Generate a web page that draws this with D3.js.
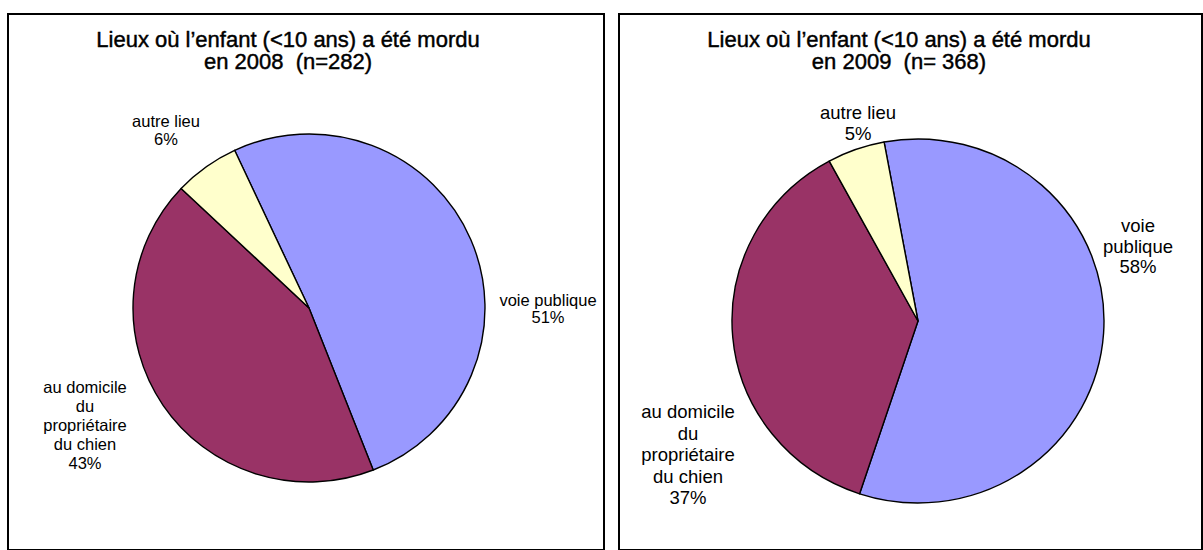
<!DOCTYPE html>
<html>
<head>
<meta charset="utf-8">
<script src="https://cdn.jsdelivr.net/npm/d3@7"></script>
<style>
  body { margin: 0; background: #fff; }
  svg { display: block; font-family: "Liberation Sans", Arial, sans-serif; }
</style>
</head>
<body>
<svg id="chart" width="1203" height="550"></svg>
<script>
// data
var categories = ["voie publique", "au domicile du propriétaire du chien", "autre lieu"];
var values2008 = [51, 43, 6];
var values2009 = [58, 37, 5];
var titles2008 = ["Lieux où l’enfant (<10 ans) a été mordu", "en 2008  (n=282)"];
var titles2009 = ["Lieux où l’enfant (<10 ans) a été mordu", "en 2009  (n= 368)"];
// how each category label is broken in lines, per panel
var labelLines2008 = [["voie publique"], ["au domicile", "du", "propriétaire", "du chien"], ["autre lieu"]];
var labelLines2009 = [["voie", "publique"], ["au domicile", "du", "propriétaire", "du chien"], ["autre lieu"]];
var colors = ["#9999FF", "#993366", "#FFFFCC"];

var svg = d3.select("#chart");

var panels = [
  {
    values: values2008, titles: titles2008, lines: labelLines2008,
    box: {x: 8, y: 14, w: 596, h: 536},
    titleX: 288, cx: 309, cy: 308, rx: 176, ry: 174, start: -25,
    font: 16.5,
    labels: [{dx: 239, dy: -2, lh: 17}, {dx: -224, dy: 85, lh: 19}, {dx: -143, dy: -181, lh: 18}]
  },
  {
    values: values2009, titles: titles2009, lines: labelLines2009,
    box: {x: 619, y: 14, w: 583, h: 536},
    titleX: 899, cx: 918, cy: 321, rx: 186, ry: 182, start: -10.5,
    font: 18.5,
    labels: [{dx: 220, dy: -89, lh: 20.5}, {dx: -230, dy: 97, lh: 21.5}, {dx: -60, dy: -202, lh: 20.7}]
  }
];

panels.forEach(function(p){
  var g = svg.append("g");

  g.append("rect")
    .attr("x", p.box.x)
    .attr("y", p.box.y)
    .attr("width", p.box.w)
    .attr("height", p.box.h)
    .style("fill", "#fff")
    .style("stroke", "#000")
    .style("stroke-width", 2);

  // two-line title in one text element
  var title = g.append("text")
    .attr("class", "title")
    .attr("text-anchor", "middle")
    .style("font-size", "22px")
    .style("fill", "#000")
    .style("stroke", "#000")
    .style("stroke-width", 0.45)
    .style("white-space", "pre");
  p.titles.forEach(function(d, i){
    title.append("tspan")
      .attr("x", p.titleX)
      .attr("y", 47 + i * 21.5)
      .text(d);
  });

  var pie = d3.pie()
    .sort(null)
    .startAngle(p.start * Math.PI / 180)
    .endAngle((p.start + 360) * Math.PI / 180);

  var arc = d3.arc().innerRadius(0).outerRadius(p.ry);

  var pg = g.append("g")
    .attr("transform", "translate(" + p.cx + "," + p.cy + ") scale(" + (p.rx / p.ry) + ",1)");

  pg.selectAll("path")
    .data(pie(p.values))
    .enter().append("path")
    .attr("d", arc)
    .style("fill", function(d, i){ return colors[i]; })
    .style("stroke", "#000")
    .style("stroke-width", 1.4)
    .style("stroke-linejoin", "round")
    .attr("vector-effect", "non-scaling-stroke");

  p.values.forEach(function(v, i){
    var pos = p.labels[i];
    var lines = p.lines[i].concat([v + "%"]);
    var t = g.append("text")
      .attr("text-anchor", "middle")
      .style("font-size", p.font + "px")
      .style("fill", "#000");
    lines.forEach(function(line, j){
      t.append("tspan")
        .attr("x", p.cx + pos.dx)
        .attr("y", p.cy + pos.dy + j * pos.lh)
        .text(line);
    });
  });
});
</script>
</body>
</html>
